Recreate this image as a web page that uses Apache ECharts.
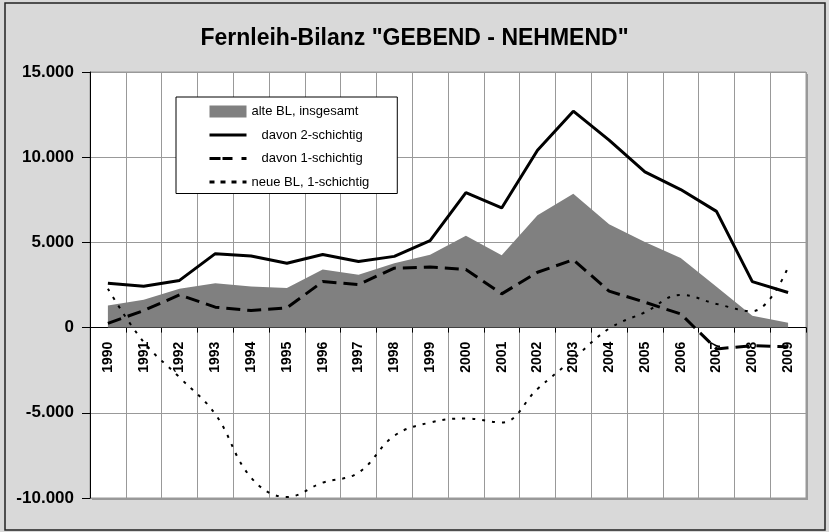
<!DOCTYPE html>
<html>
<head>
<meta charset="utf-8">
<script src="https://cdn.jsdelivr.net/npm/echarts@6/dist/echarts.min.js"></script>
<style>html,body{margin:0;padding:0;background:#d9d9d9;}#c{width:829px;height:532px;}</style>
</head>
<body>
<div id="c"></div>
<script>
const years = ['1990','1991','1992','1993','1994','1995','1996','1997','1998','1999','2000','2001','2002','2003','2004','2005','2006','2007','2008','2009'];
const alteBL = [1290,1630,2280,2600,2410,2330,3410,3100,3780,4280,5390,4240,6590,7860,6060,5020,4080,2400,700,280];
const zweiSchichtig = [2600,2430,2770,4340,4200,3780,4290,3880,4180,5100,7920,7020,10410,12700,11000,9140,8100,6820,2700,2060];
const einSchichtig = [250,1000,1920,1200,1000,1160,2700,2530,3490,3550,3410,1980,3250,3980,2140,1490,800,-1250,-1060,-1120];
const neueBL = [2280,-850,-2920,-5080,-8800,-9940,-9100,-8510,-6350,-5570,-5330,-5570,-3600,-1840,-60,900,1920,1390,960,3550];
const seriesNames = ['alte BL, insgesamt','davon 2-schichtig','davon 1-schichtig','neue BL, 1-schichtig'];
const titleText = 'Fernleih-Bilanz "GEBEND - NEHMEND"';
const yMin = -10000, yMax = 15000, yStep = 5000;

function fmt(v){
  const s = String(Math.abs(v)).replace(/\B(?=(\d{3})+(?!\d))/g, '.');
  return (v < 0 ? '-' : '') + s;
}

const W = 829, H = 532;
const gridTop = 72, gridBottom = 34, gridLeft = 90, gridRight = 23;
const plotH = H - gridTop - gridBottom;
const zeroOffset = -plotH * (0 - yMin) / (yMax - yMin);

const chart = echarts.init(document.getElementById('c'), null, {renderer:'canvas'});
const font = '"Liberation Sans", Arial, sans-serif';
chart.setOption({
  backgroundColor: '#d9d9d9',
  animation: false,
  textStyle: {fontFamily: font, color: '#000'},
  title: {
    text: titleText, left: 'center', top: 22,
    textStyle: {fontFamily: font, fontSize: 23, fontWeight: 'bold', color: '#000'}
  },
  graphic: [
    {type:'rect', z:-10, shape:{x:5, y:3, width:820, height:527}, style:{fill:'none', stroke:'#222', lineWidth:1.5}},
    {type:'rect', z:-5, shape:{x:gridLeft+2, y:gridTop+2, width:W-gridLeft-gridRight, height:plotH}, style:{fill:'#999'}}
  ],
  legend: {
    orient: 'vertical', left: 176, top: 97,
    backgroundColor: '#fff', borderColor: '#000', borderWidth: 1,
    padding: [8, 28, 5, 32], itemGap: 10.5, itemWidth: 37, itemHeight: 12,
    textStyle: {fontFamily: font, fontSize: 13, color: '#000'},
    data: [
      {name: seriesNames[0], icon: 'rect', itemStyle: {color: '#808080'}},
      {name: seriesNames[1], itemStyle: {opacity: 0}, lineStyle: {width: 3, type: 'solid'}, textStyle: {padding: [0,0,0,10]}},
      {name: seriesNames[2], itemStyle: {opacity: 0}, lineStyle: {width: 3, type: [11,2,10,9]}, textStyle: {padding: [0,0,0,10]}},
      {name: seriesNames[3], itemStyle: {opacity: 0}, lineStyle: {width: 3, type: [5,6]}}
    ]
  },
  grid: {left: gridLeft, right: gridRight, top: gridTop, bottom: gridBottom, show: true,
         backgroundColor: '#fff', borderColor: '#999', borderWidth: 1,
         containLabel: false, outerBoundsMode: 'none'},
  xAxis: {
    type: 'category', data: years, boundaryGap: true, position: 'bottom', offset: zeroOffset,
    axisLine: {onZero: false, lineStyle: {color: '#000', width: 1}},
    axisTick: {show: true, length: 5, inside: false, lineStyle: {color: '#000'}},
    splitLine: {show: true, lineStyle: {color: '#999', width: 1}},
    axisLabel: {rotate: 90, fontSize: 14, fontWeight: 'bold', color: '#000', margin: 14, fontFamily: font}
  },
  yAxis: {
    type: 'value', min: yMin, max: yMax, interval: yStep,
    axisLine: {show: true, lineStyle: {color: '#000'}},
    axisTick: {show: true, length: 8, lineStyle: {color: '#000'}},
    splitLine: {show: true, lineStyle: {color: '#999', width: 1}},
    axisLabel: {formatter: fmt, fontSize: 17, fontWeight: 'bold', color: '#000', margin: 16, fontFamily: font}
  },
  series: [
    {name: seriesNames[0], type: 'line', data: alteBL, symbol: 'none', showSymbol: false,
     lineStyle: {width: 0, color: '#808080'}, itemStyle: {color: '#808080'},
     areaStyle: {color: '#808080', opacity: 1}, z: 1},
    {name: seriesNames[1], type: 'line', data: zweiSchichtig, symbol: 'none',
     lineStyle: {width: 3, color: '#000', type: 'solid'}, itemStyle: {color: '#000'}, z: 3},
    {name: seriesNames[2], type: 'line', data: einSchichtig, symbol: 'none',
     lineStyle: {width: 3, color: '#000', type: [14, 7]}, itemStyle: {color: '#000'}, z: 3},
    {name: seriesNames[3], type: 'line', data: neueBL, symbol: 'none', smooth: 0.4,
     lineStyle: {width: 2, color: '#000', type: [3, 7]}, itemStyle: {color: '#000'}, z: 3}
  ]
});
</script>
</body>
</html>
